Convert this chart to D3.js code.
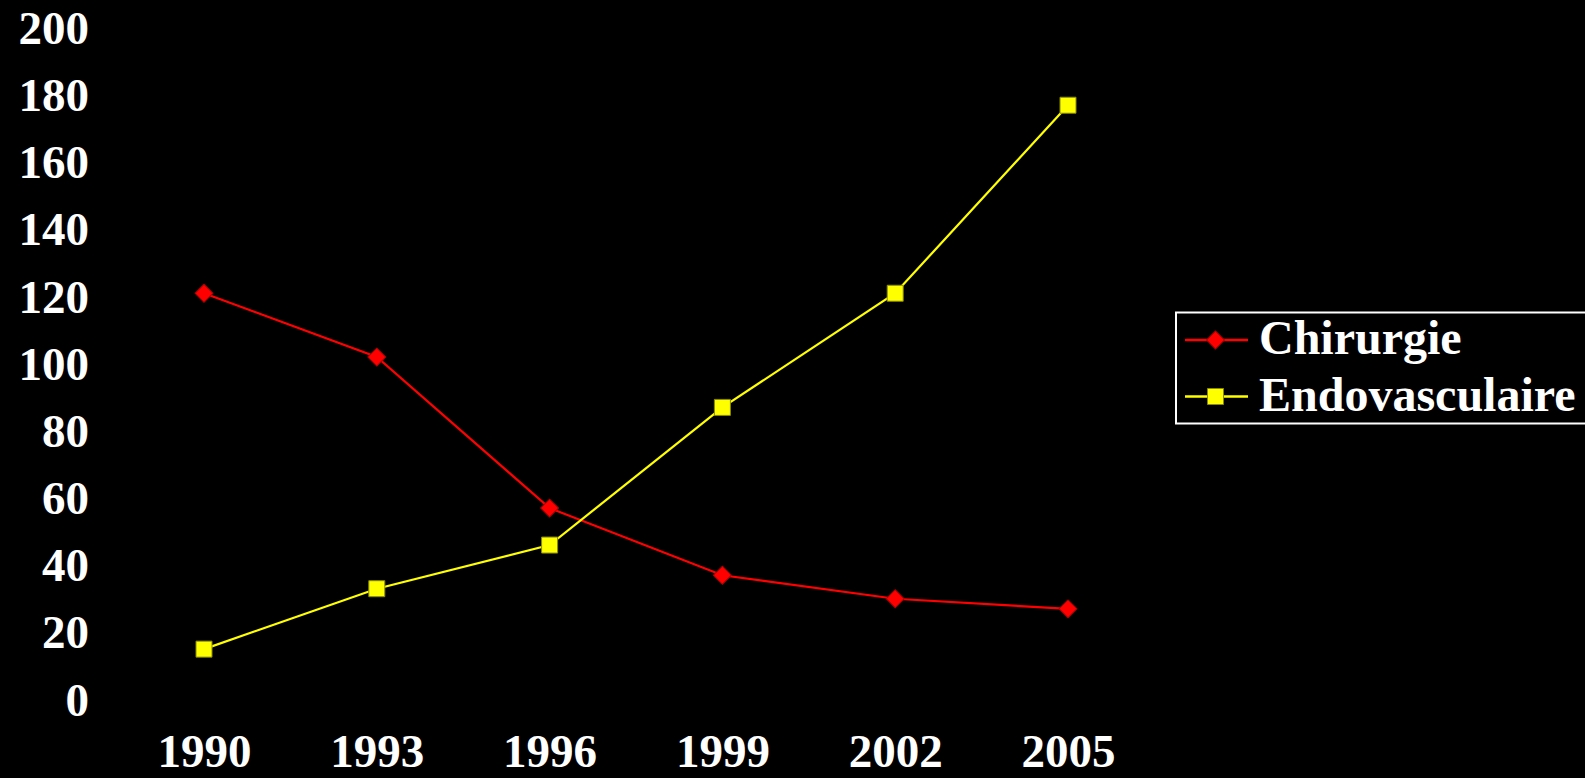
<!DOCTYPE html>
<html>
<head>
<meta charset="utf-8">
<script src="https://cdn.jsdelivr.net/npm/d3@7"></script>
<style>
    body { margin: 0; background: #000; }
    #chart text { font-family: "Liberation Serif", "Times New Roman", serif; font-weight: bold; fill: #fff; }
</style>
</head>
<body>
<div id="chart"></div>
<script>
const years = ["1990", "1993", "1996", "1999", "2002", "2005"];
const chirurgie = [121, 102, 57, 37, 30, 27];
const endovasculaire = [15, 33, 46, 87, 121, 177];
const yTicks = [0, 20, 40, 60, 80, 100, 120, 140, 160, 180, 200];
const seriesNames = ["Chirurgie", "Endovasculaire"];

var Chart = (() => {

    let svg = {
            width: 1585,
            height: 778,
            margin: { top: 28, right: 517, bottom: 78.5, left: 204 }
        },
        xScale, yScale;

    const series = [
        { name: seriesNames[0], values: chirurgie, color: "#ff0000", edge: "#b00000", shape: "diamond" },
        { name: seriesNames[1], values: endovasculaire, color: "#ffff00", edge: "#8a8a00", shape: "square" }
    ];

    function symbolPath(shape) {
        // diamond = rotated square, a bit smaller than the square marker
        return shape === "diamond"
            ? d3.symbol(d3.symbolSquare, 160)()
            : d3.symbol(d3.symbolSquare, 256)();
    }

    function scaleData() {
        xScale = d3.scalePoint()
            .domain(years)
            .range([svg.margin.left, svg.width - svg.margin.right]);

        yScale = d3.scaleLinear()
            .domain([0, 200])
            .range([svg.height - svg.margin.bottom, svg.margin.top]);
    }

    function plotData() {
        const chart = d3.select("#chart")
            .append("svg")
            .attr("width", svg.width)
            .attr("height", svg.height)
            .style("background", "#000");

        // y axis labels
        chart.append("g")
            .attr("class", "axis y")
            .attr("transform", "translate(89, 0)")
            .call(d3.axisLeft(yScale).tickValues(yTicks).tickSize(0).tickPadding(0))
            .call(g => g.select(".domain").remove())
            .selectAll("text")
            .attr("font-size", 47)
            .attr("dy", "0.33em");

        // x axis labels (baseline kept just above the bottom edge)
        chart.append("g")
            .attr("class", "axis x")
            .attr("transform", "translate(0, 767)")
            .call(d3.axisBottom(xScale).tickSize(0).tickPadding(0))
            .call(g => g.select(".domain").remove())
            .selectAll("text")
            .attr("font-size", 47)
            .attr("dy", 0);

        chart.selectAll(".axis text").style("fill", "#fff")
            .style("font-family", "'Liberation Serif', 'Times New Roman', serif")
            .style("font-weight", "bold");

        const line = d3.line()
            .x((d, i) => xScale(years[i]))
            .y(d => yScale(d));

        const marks = chart.append("g").attr("class", "marks");

        series.forEach(s => {
            marks.append("path")
                .attr("fill", "none")
                .attr("stroke", s.color)
                .attr("stroke-width", 2.2)
                .attr("d", line(s.values));

            marks.selectAll(null)
                .data(s.values)
                .join("path")
                .attr("d", symbolPath(s.shape))
                .attr("fill", s.color)
                .attr("stroke", s.edge)
                .attr("stroke-width", 1)
                .attr("transform", (d, i) =>
                    `translate(${xScale(years[i])}, ${yScale(d)})` + (s.shape === "diamond" ? " rotate(45)" : ""));
        });

        // legend
        const legend = chart.append("g").attr("class", "legend");

        legend.append("rect")
            .attr("x", 1176)
            .attr("y", 312.5)
            .attr("width", 440)
            .attr("height", 111)
            .attr("fill", "#000")
            .attr("stroke", "#fff")
            .attr("stroke-width", 2);

        series.forEach((s, i) => {
            const y = 340 + i * 56.5;
            legend.append("line")
                .attr("x1", 1185).attr("x2", 1248)
                .attr("y1", y).attr("y2", y)
                .attr("stroke", s.color)
                .attr("stroke-width", 2.5);
            legend.append("path")
                .attr("d", symbolPath(s.shape))
                .attr("fill", s.color)
                .attr("stroke", s.edge)
                .attr("stroke-width", 1)
                .attr("transform", `translate(1215.5, ${y})` + (s.shape === "diamond" ? " rotate(45)" : ""));
            legend.append("text")
                .attr("x", 1259)
                .attr("y", y + 14)
                .attr("font-size", 48)
                .text(s.name);
        });
    }

    return { svg, scaleData, plotData };

})();

Chart.scaleData();
Chart.plotData();
</script>
</body>
</html>
